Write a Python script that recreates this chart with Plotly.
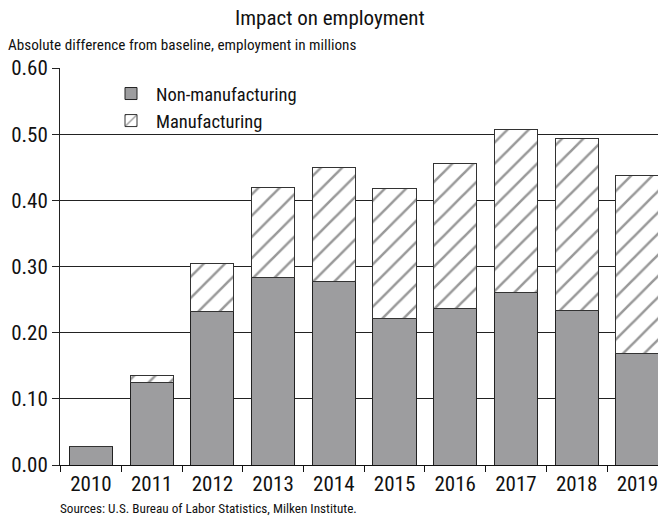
import plotly.graph_objects as go

years = ["2010", "2011", "2012", "2013", "2014", "2015", "2016", "2017", "2018", "2019"]
non_manufacturing = [0.028, 0.124, 0.232, 0.284, 0.277, 0.222, 0.236, 0.261, 0.233, 0.168]
manufacturing = [0.0, 0.012, 0.072, 0.135, 0.173, 0.196, 0.220, 0.246, 0.260, 0.270]
y_ticks = [0.0, 0.1, 0.2, 0.3, 0.4, 0.5, 0.6]
y_tick_labels = ["0.00", "0.10", "0.20", "0.30", "0.40", "0.50", "0.60"]

FONT = "Roboto Condensed, Roboto, sans-serif"

fig = go.Figure()
fig.add_trace(go.Bar(
    x=years, y=non_manufacturing, name="Non-manufacturing",
    marker=dict(color="#9d9d9f", line=dict(color="#222", width=1)),
))
fig.add_trace(go.Bar(
    x=years, y=manufacturing, name="Manufacturing",
    marker=dict(color="white", line=dict(color="#333", width=1),
                pattern=dict(shape="/", fgcolor="#333", bgcolor="white", size=15, solidity=0.17)),
))

W, H = 658, 517
L, R, T, B = 60, 0, 68, 52
pw, ph = W - L - R, H - T - B

def px_x(x):
    return (x - L) / pw

def px_y(y):
    return (H - B - y) / ph

fig.update_layout(
    width=W, height=H,
    margin=dict(l=L, r=R, t=T, b=B),
    barmode="stack", bargap=0.29,
    plot_bgcolor="white", paper_bgcolor="white",
    font=dict(family=FONT, size=19, color="#111"),
    showlegend=True,
    legend=dict(x=px_x(106), y=px_y(75), xanchor="left", yanchor="top",
                traceorder="normal", font=dict(size=18.5), itemwidth=40,
                bgcolor="rgba(0,0,0,0)", tracegroupgap=0),
    xaxis=dict(type="category", range=[-0.51, 9.34], showgrid=False,
               showline=True, linecolor="#111", linewidth=1,
               ticks="outside", tickson="boundaries", ticklen=6, tickcolor="#111",
               tickfont=dict(size=21), fixedrange=True),
    yaxis=dict(range=[0, 0.6], tickvals=y_ticks, ticktext=y_tick_labels,
               showgrid=True, gridcolor="#222", gridwidth=1,
               showline=True, linecolor="#222", linewidth=1, zeroline=False,
               ticks="outside", ticklen=7, tickcolor="#222",
               tickfont=dict(size=21), fixedrange=True),
)

fig.add_annotation(text="Impact on employment", xref="paper", yref="paper",
                   x=px_x(330), y=px_y(18), xanchor="center", yanchor="middle",
                   showarrow=False, font=dict(size=21, family=FONT))
fig.add_annotation(text="Absolute difference from baseline, employment in millions",
                   xref="paper", yref="paper", x=px_x(6), y=px_y(45),
                   xanchor="left", yanchor="middle", showarrow=False,
                   font=dict(size=15.2, family=FONT))
fig.add_annotation(text="Sources: U.S. Bureau of Labor Statistics, Milken Institute.",
                   xref="paper", yref="paper", x=px_x(58), y=px_y(508),
                   xanchor="left", yanchor="middle", showarrow=False,
                   font=dict(size=13.2, family=FONT))

fig.write_html("out.html", config={"displayModeBar": False},
               post_script="document.body.style.margin='0';")
